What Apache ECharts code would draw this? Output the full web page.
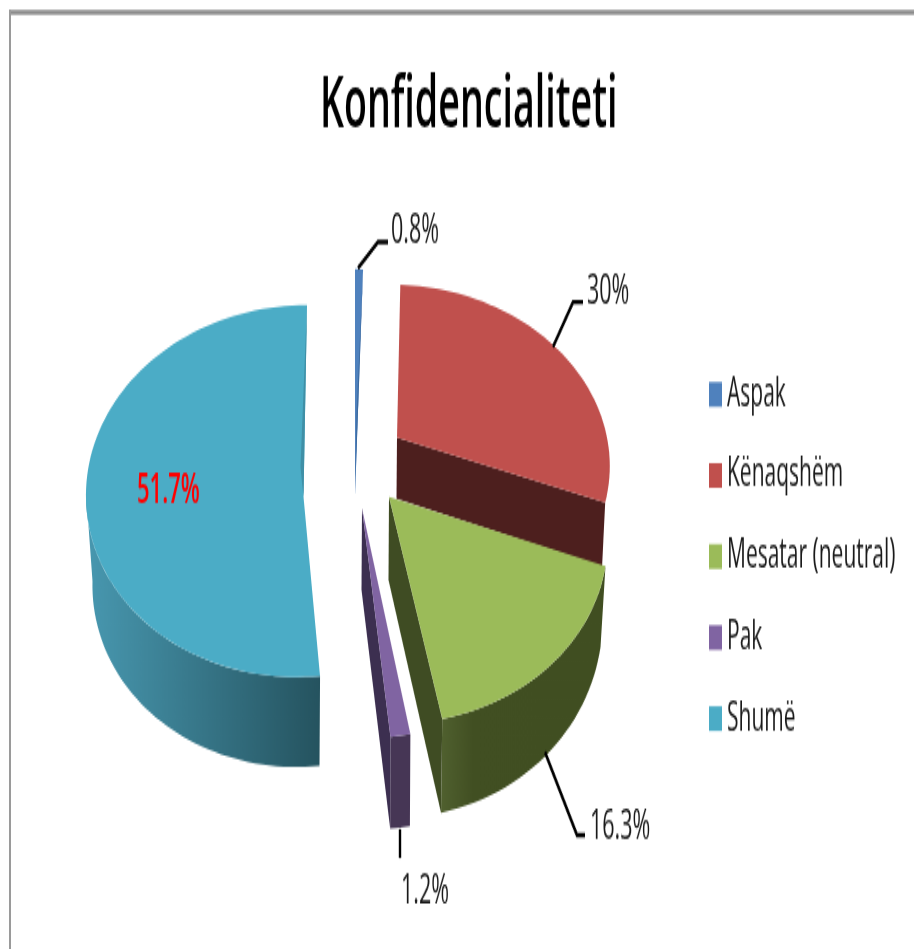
<!DOCTYPE html>
<html><head><meta charset="utf-8">
<style>html,body{margin:0;padding:0;background:#fff;width:914px;height:949px;overflow:hidden}
#w{width:914px;height:949px;overflow:hidden;position:relative}
#c{width:914px;height:500px;position:absolute;left:0;top:0;transform-origin:0 0;transform:scaleY(1.898)}</style>
<script src="https://cdn.jsdelivr.net/npm/echarts@6/dist/echarts.min.js"></script>
</head><body><div id="w"><div id="c"></div></div>
<script>
const titleText = 'Konfidencialiteti';
const categories = ['Aspak', 'Kënaqshëm', 'Mesatar (neutral)', 'Pak', 'Shumë'];
const values = [0.8, 30, 16.3, 1.2, 51.7];
const colors = ['#4f81bd', '#c0504d', '#9bbb59', '#8064a2', '#4bacc6'];

const sy = 500 / 949;
const looks = [
  {ax:355,ay:495,cx:355,cy:495,k:160,m:226,p:0,s:0,sliver:[1.5,-80,'#3d6a9e'],
   leader:[[358,268],[378,242],[388,242]],lab:[391,232],fill:'#1a1a1a'},
  {ax:397,ay:437.5,cx:397,cy:437.5,k:210,m:173.5,p:.134,s:-6,dm:61,dApex:61,f:.985,cut:'#4d1f1e',
   leader:[[553,347],[573,302],[583,302]],lab:[587,293],fill:'#1a1a1a'},
  {ax:389,ay:497,cx:389,cy:497,k:213,m:180,p:.205,s:-5,dm:75,dApex:83,f:.977,
   side:[[0,'#404e21'],[.8,'#414f22'],[1,'#50602f']],cut:'#3f4c23',
   leader:[[545,752],[577,835],[585,835]],lab:[590,827],fill:'#1a1a1a'},
  {ax:362,ay:508,cx:362,cy:508,k:267,m:230,p:0,s:0,dm:92,dApex:82,f:.99,side:[[0,'#463655'],[1,'#463655']],cut:'#3c2f50',
   leader:[[400,829],[400,858]],lab:[401,891],fill:'#1a1a1a'},
  {ax:303.5,ay:497,cx:302,cy:491,k:216,m:186,p:0,s:5,dm:90,dApex:0,f:.97,side:[[0,'#25535f'],[1,'#4898b0']],sliver:[-3,-30,'#3f8fa6'],
   lab:[137,491],fill:'#ff0000',heavy:true}
];

function proj(g, deg) {
  const a = deg * Math.PI / 180, X = Math.sin(a), Y = Math.cos(a), w = 1 + g.p * Y;
  return [g.cx + g.k * X / w + g.s * Y, g.cy - g.m * Y / w, w];
}
function down(g, pt) { return [g.cx + (pt[0] - g.cx) * g.f, pt[1] + g.dm / pt[2]]; }
function toC(pts) { return pts.map(p => [p[0], p[1] * sy]); }
function arc(g, a0, a1) {
  const n = Math.max(2, Math.ceil((a1 - a0) / 2)), r = [];
  for (let i = 0; i <= n; i++) r.push(proj(g, a0 + (a1 - a0) * i / n));
  return r;
}
const total = values.reduce((a, b) => a + b, 0);

function makeRender(i) {
  return function (params, api) {
    const g = looks[i];
    const before = values.slice(0, i).reduce((a, b) => a + b, 0);
    const a0 = before / total * 360, a1 = a0 + api.value(0) / total * 360;
    const kids = [];
    const apex = [g.ax, g.ay];
    if (g.side) {
      const f0 = Math.max(a0, 90), f1 = Math.min(a1, 270);
      if (f1 > f0) {
        const top = arc(g, f0, f1), bot = top.map(p => down(g, p)).reverse();
        const fill = new echarts.graphic.LinearGradient(1, 0, 0, 0, g.side.map(s => ({offset:s[0],color:s[1]})));
        kids.push({type:'polygon',shape:{points:toC(top.concat(bot))},style:{fill}});
      }
    }
    if (g.cut) {
      const e = proj(g, a1);
      kids.push({type:'polygon',shape:{points:toC([apex,e,down(g,e),[g.ax - 0.5,g.ay + g.dApex]])},style:{fill:g.cut}});
    }
    const pts = [apex].concat(arc(g, a0, a1));
    kids.push({type:'polygon',shape:{points:toC(pts)},style:{fill:colors[i]}});
    if (g.sliver) {
      const e = proj(g, a1);
      kids.push({type:'polygon',shape:{points:toC([e,apex,[g.ax + g.sliver[0],g.ay + g.sliver[1]]])},style:{fill:g.sliver[2]}});
    }
    if (g.leader) kids.push({type:'polyline',shape:{points:toC(g.leader)},style:{stroke:'#000',lineWidth:2.4,fill:null}});
    kids.push({type:'text',style:{text:api.value(0) + '%',x:g.lab[0],y:g.lab[1] * sy,fill:g.fill,
      font:(g.heavy ? '600 22px' : '21.5px') + ' "Open Sans"',textAlign:'left',textVerticalAlign:'middle'}});
    return {type:'group',children:kids};
  };
}

const chart = echarts.init(document.getElementById('c'), null, {width:914, height:500, devicePixelRatio:1});
chart.setOption({
  animation:false,
  color:colors,
  title:{text:titleText,left:315,top:32,textStyle:{fontFamily:'Open Sans',fontWeight:600,fontSize:37.6,color:'#000'}},
  legend:{orient:'vertical',left:704,top:192.3,itemWidth:13,itemHeight:13,itemGap:21.7,icon:'rect',
    textStyle:{fontFamily:'Open Sans',fontSize:21,color:'#1a1a1a'},data:categories,selectedMode:false},
  graphic:[
    {type:'rect',shape:{x:9,y:10*sy,width:905,height:4.5*sy},style:{fill:'#8c8c8c'},silent:true},
    {type:'rect',shape:{x:9,y:10*sy,width:2,height:500},style:{fill:'#9a9a9a'},silent:true}
  ],
  series:categories.map((name,i)=>({type:'custom',name,coordinateSystem:'none',
    itemStyle:{color:colors[i]},data:[[values[i]]],renderItem:makeRender(i)}))
});
</script></body></html>
